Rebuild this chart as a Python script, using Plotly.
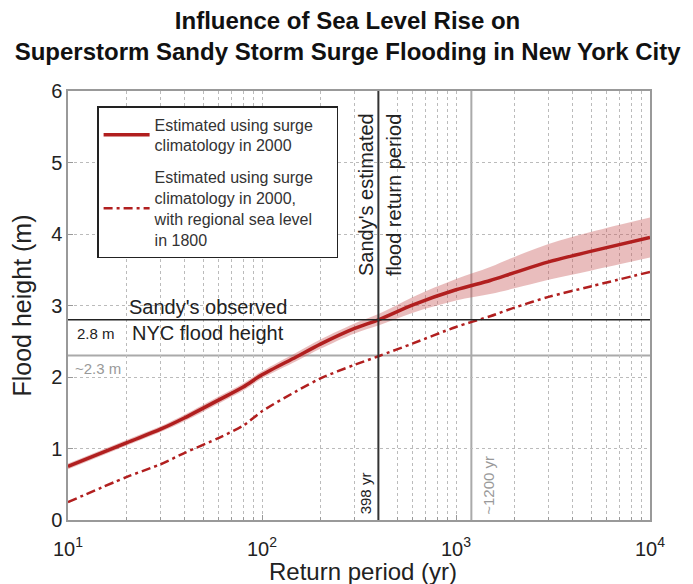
import math
import plotly.graph_objects as go

# ---- data ----
return_period = [10, 20, 30, 40, 60, 80, 100, 150, 200, 300, 398, 600, 1000, 1500, 2000, 3000, 5000, 10000]
height_2000 = [0.75, 1.08, 1.27, 1.43, 1.68, 1.86, 2.03, 2.28, 2.46, 2.68, 2.80, 3.01, 3.22, 3.35, 3.46, 3.61, 3.76, 3.95]
band_half = [0.04, 0.04, 0.04, 0.045, 0.05, 0.05, 0.05, 0.06, 0.065, 0.07, 0.08, 0.11, 0.15, 0.19, 0.22, 0.25, 0.27, 0.28]
height_1800 = [0.25, 0.60, 0.78, 0.94, 1.15, 1.32, 1.52, 1.80, 1.98, 2.17, 2.29, 2.47, 2.70, 2.85, 2.97, 3.12, 3.27, 3.47]

observed_height = 2.8
height_1800_level = 2.3
sandy_return = 398
return_1800 = 1200

red = "#b11f1f"
font_family = "Liberation Sans, Arial, Helvetica, sans-serif"

upper = [h + b for h, b in zip(height_2000, band_half)]
lower = [h - b for h, b in zip(height_2000, band_half)]

fig = go.Figure()
fig.add_trace(go.Scatter(x=return_period, y=upper, mode="lines", line=dict(width=0, shape="spline"),
                         showlegend=False, hoverinfo="skip"))
fig.add_trace(go.Scatter(x=return_period, y=lower, mode="lines", line=dict(width=0, shape="spline"),
                         fill="tonexty", fillcolor="rgba(200,90,90,0.40)",
                         showlegend=False, hoverinfo="skip"))
fig.add_trace(go.Scatter(x=return_period, y=height_2000, mode="lines",
                         line=dict(color=red, width=3.5, shape="spline", smoothing=0.8),
                         name="Estimated using surge<br>climatology in 2000",
                         legendgroup="a"))
fig.add_trace(go.Scatter(x=return_period, y=height_1800, mode="lines",
                         line=dict(color=red, width=2.5, dash="9px,4px,3px,4px", shape="spline", smoothing=0.8),
                         name="Estimated using surge<br>climatology in 2000,<br>with regional sea level&nbsp;&nbsp;&nbsp;&nbsp;<br>in 1800",
                         legendgroup="b"))

fig.add_hline(y=height_1800_level, line=dict(color="#aaaaaa", width=2), layer="below")
fig.add_hline(y=observed_height, line=dict(color="#222222", width=1.6))
fig.add_vline(x=sandy_return, line=dict(color="#333333", width=2))
fig.add_vline(x=return_1800, line=dict(color="#aaaaaa", width=2), layer="below")

ann_font = dict(family=font_family, size=20, color="#222222")
small_dark = dict(family=font_family, size=15, color="#222222")
small_gray = dict(family=font_family, size=15, color="#999999")
lx_sandy = math.log10(sandy_return)
lx_1800 = math.log10(return_1800)

fig.add_annotation(x=1.72, y=observed_height, xref="x", yref="y", text="Sandy's observed",
                   showarrow=False, yanchor="bottom", yshift=0, font=ann_font)
fig.add_annotation(x=1.72, y=observed_height, xref="x", yref="y", text="NYC flood height",
                   showarrow=False, yanchor="top", yshift=0, font=ann_font)
fig.add_annotation(x=0.012, xref="paper", y=observed_height, yref="y", text="2.8 m",
                   showarrow=False, xanchor="left", yanchor="top", yshift=-3, font=small_dark)
fig.add_annotation(x=0.008, xref="paper", y=height_1800_level, yref="y", text="~2.3 m",
                   showarrow=False, xanchor="left", yanchor="top", yshift=-2, font=small_gray)
fig.add_annotation(x=lx_sandy, y=4.55, xref="x", yref="y", text="Sandy's estimated",
                   showarrow=False, textangle=-90, xanchor="right", xshift=0, font=ann_font)
fig.add_annotation(x=lx_sandy, y=4.55, xref="x", yref="y", text="flood return period",
                   showarrow=False, textangle=-90, xanchor="left", xshift=2, font=ann_font)
fig.add_annotation(x=lx_sandy, y=0.05, xref="x", yref="y", text=f"{sandy_return} yr",
                   showarrow=False, textangle=-90, xanchor="right", yanchor="bottom", xshift=-2,
                   font=small_dark)
fig.add_annotation(x=lx_1800, y=0.05, xref="x", yref="y", text=f"~{return_1800} yr",
                   showarrow=False, textangle=-90, xanchor="left", yanchor="bottom", xshift=7,
                   font=small_gray)
# x-axis title placed as annotation so it sits closer to the tick labels
fig.add_annotation(x=0.5, y=0, xref="paper", yref="paper", text="Return period (yr)",
                   showarrow=False, xanchor="center", yanchor="middle", yshift=-51, xshift=4,
                   font=dict(family=font_family, size=24, color="#222222"))

fig.update_layout(
    width=693, height=584,
    margin=dict(l=60, r=51, t=83, b=72),
    paper_bgcolor="white", plot_bgcolor="white",
    font=dict(family=font_family, color="#222222"),
    title=dict(text="<b>Influence of Sea Level Rise on<br>Superstorm Sandy Storm Surge Flooding in New York City</b>",
               x=0.49, xanchor="center", xref="container", y=0.964, yanchor="middle", yref="container",
               font=dict(family=font_family, size=24, color="#111111")),
    legend=dict(x=0.05, y=0.965, xanchor="left", yanchor="top",
                bordercolor="#222222", borderwidth=1.5, bgcolor="white",
                font=dict(family=font_family, size=16, color="#333333"),
                tracegroupgap=8, itemwidth=46),
    showlegend=True,
)
fig.update_xaxes(type="log", range=[1, 4], automargin=False,
                 tickvals=[10, 100, 1000, 10000],
                 ticktext=["10<sup>1</sup>", "10<sup>2</sup>", "10<sup>3</sup>", "10<sup>4</sup>"],
                 tickfont=dict(size=20, color="#222222"), ticklabelstandoff=10,
                 showline=True, linecolor="#999999", linewidth=1.5, mirror=True,
                 ticks="inside", ticklen=5, tickcolor="#999999",
                 showgrid=True, gridcolor="#bbbbbb", griddash="dot", gridwidth=1,
                 minor=dict(dtick="D1", showgrid=True, gridcolor="#bbbbbb", griddash="dot",
                            ticks="inside", ticklen=3, tickcolor="#999999"),
                 zeroline=False)
fig.update_yaxes(range=[0, 6], dtick=1, automargin=False,
                 tickfont=dict(size=20, color="#222222"),
                 showline=True, linecolor="#999999", linewidth=1.5, mirror=True,
                 ticks="inside", ticklen=5, tickcolor="#999999",
                 showgrid=True, gridcolor="#bbbbbb", griddash="dot", gridwidth=1,
                 zeroline=False,
                 title=dict(text="Flood height (m)", font=dict(size=25, color="#222222"), standoff=14))

fig.write_html("out.html")
